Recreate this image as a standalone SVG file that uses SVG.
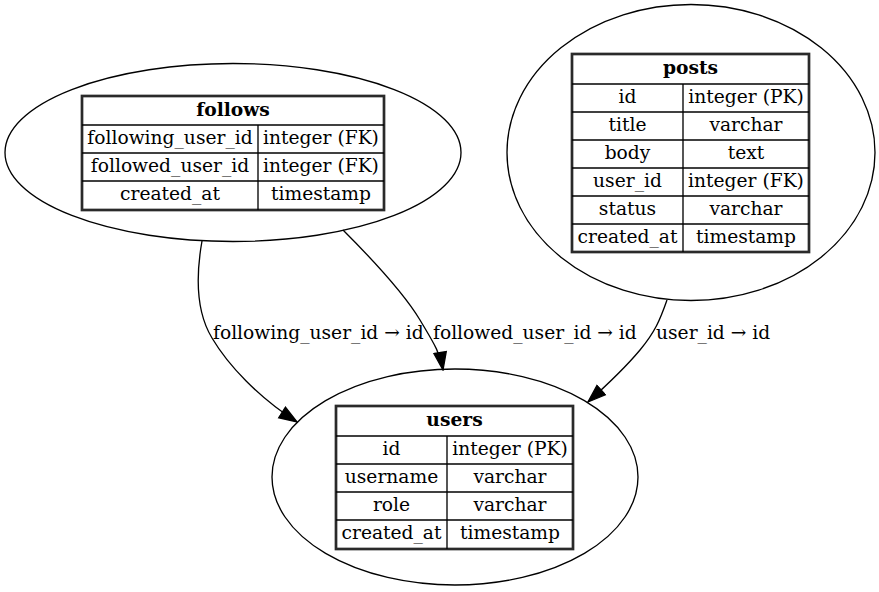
<svg xmlns="http://www.w3.org/2000/svg" width="879" height="592" viewBox="0 0 879 592">
<style>
  text { font-family: "DejaVu Serif", "Liberation Serif", serif; font-size: 18.67px; fill: #000; text-anchor: middle; }
  .hdr { font-weight: bold; }
  .lbl { text-anchor: start; }
  .node-shape { fill: none; stroke: #000; stroke-width: 1.33; }
  .tbl { fill: #fff; stroke: #2a2a2a; stroke-width: 2.7; }
  .cell { stroke: #000; stroke-width: 1.33; fill: none; }
  .edge { fill: none; stroke: #000; stroke-width: 1.33; }
</style>
<defs>
  <marker id="arrow" markerUnits="userSpaceOnUse" markerWidth="20" markerHeight="20" viewBox="-14 -6 15 12" refX="0" refY="0" orient="auto">
    <path d="M0,0 L-13.3,-4.7 L-13.3,4.7 Z" fill="#000" stroke="#000" stroke-width="1"/>
  </marker>
</defs>
<rect width="879" height="592" fill="#fff"/>

<g id="connectors">
  <path class="edge" d="M202,241 C196,275 195,310 212,338 C228,365 258,397 297,422" marker-end="url(#arrow)"/>
  <path class="edge" d="M343,230 C375,262 405,295 420,320 C433,342 440,352 443,370" marker-end="url(#arrow)"/>
  <path class="edge" d="M667,300 C660,320 655,332 640,350 C625,368 608,384 588,402" marker-end="url(#arrow)"/>
  <text class="lbl" x="213" y="339">following_user_id → id</text>
  <text class="lbl" x="433" y="339">followed_user_id → id</text>
  <text class="lbl" x="656" y="339">user_id → id</text>
</g>

<g id="follows">
  <ellipse class="node-shape" cx="233" cy="152.5" rx="228" ry="89"/>
  <rect class="tbl" x="82" y="96" width="302" height="114"/>
  <line class="cell" x1="82" y1="125" x2="384" y2="125"/>
  <line class="cell" x1="82" y1="153" x2="384" y2="153"/>
  <line class="cell" x1="82" y1="181" x2="384" y2="181"/>
  <line class="cell" x1="258" y1="125" x2="258" y2="210"/>
  <text class="hdr" x="233" y="116">follows</text>
  <text x="170" y="144">following_user_id</text>
  <text x="321" y="144">integer (FK)</text>
  <text x="170" y="172">followed_user_id</text>
  <text x="321" y="172">integer (FK)</text>
  <text x="170" y="200">created_at</text>
  <text x="321" y="200">timestamp</text>
</g>

<g id="posts">
  <ellipse class="node-shape" cx="691" cy="152.5" rx="184" ry="148"/>
  <rect class="tbl" x="572" y="54" width="237" height="198"/>
  <line class="cell" x1="572" y1="84" x2="809" y2="84"/>
  <line class="cell" x1="572" y1="112" x2="809" y2="112"/>
  <line class="cell" x1="572" y1="140" x2="809" y2="140"/>
  <line class="cell" x1="572" y1="168" x2="809" y2="168"/>
  <line class="cell" x1="572" y1="196" x2="809" y2="196"/>
  <line class="cell" x1="572" y1="224" x2="809" y2="224"/>
  <line class="cell" x1="683" y1="84" x2="683" y2="252"/>
  <text class="hdr" x="690.5" y="74">posts</text>
  <text x="627.5" y="103">id</text>
  <text x="746" y="103">integer (PK)</text>
  <text x="627.5" y="131">title</text>
  <text x="746" y="131">varchar</text>
  <text x="627.5" y="159">body</text>
  <text x="746" y="159">text</text>
  <text x="627.5" y="187">user_id</text>
  <text x="746" y="187">integer (FK)</text>
  <text x="627.5" y="215">status</text>
  <text x="746" y="215">varchar</text>
  <text x="627.5" y="243">created_at</text>
  <text x="746" y="243">timestamp</text>
</g>

<g id="users">
  <ellipse class="node-shape" cx="455" cy="477" rx="183" ry="108"/>
  <rect class="tbl" x="336" y="406" width="237" height="143"/>
  <line class="cell" x1="336" y1="436" x2="573" y2="436"/>
  <line class="cell" x1="336" y1="464" x2="573" y2="464"/>
  <line class="cell" x1="336" y1="492" x2="573" y2="492"/>
  <line class="cell" x1="336" y1="520" x2="573" y2="520"/>
  <line class="cell" x1="447" y1="436" x2="447" y2="549"/>
  <text class="hdr" x="454.5" y="426">users</text>
  <text x="391.5" y="455">id</text>
  <text x="510" y="455">integer (PK)</text>
  <text x="391.5" y="483">username</text>
  <text x="510" y="483">varchar</text>
  <text x="391.5" y="511">role</text>
  <text x="510" y="511">varchar</text>
  <text x="391.5" y="539">created_at</text>
  <text x="510" y="539">timestamp</text>
</g>
</svg>
